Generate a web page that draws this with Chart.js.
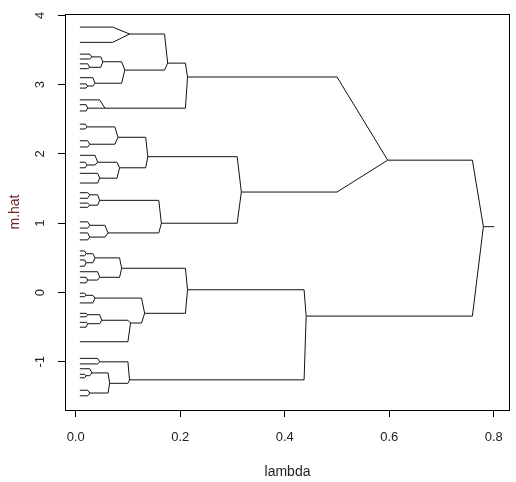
<!DOCTYPE html>
<html>
<head>
<meta charset="utf-8">
<title>m.hat vs lambda</title>
<script src="https://cdn.jsdelivr.net/npm/chart.js@4.4.1/dist/chart.umd.min.js"></script>
<style>
  html, body { margin: 0; padding: 0; background: #fff; }
  #wrap { width: 516px; height: 482px; }
</style>
</head>
<body>
<div id="wrap"><canvas id="chart"></canvas></div>
<script>
const xTicks = [0, 0.2, 0.4, 0.6, 0.8];
const yTicks = [-1, 0, 1, 2, 3, 4];

// merge points of the tree: where they form (lambda), their m.hat,
// the node they join and the lambda where the branch turns towards it
const mergeIds = [
  "R", "A", "B", "A1", "A2", "T", "U", "T1", "T2", "T2a",
  "T2b", "T2a1", "T2a2", "T2b1", "U2", "V", "W", "V1", "V2", "V1a",
  "V1b", "V2a", "V2a1", "V2b", "W1", "W2", "W1a", "W1b", "W2a", "W2b",
  "X", "Y", "X1", "X2", "X1a", "X1a1", "X1a2", "X1b", "X1b1", "X2a",
  "X2a1", "X2b", "X2b1", "X2b1a", "X2b1b", "Y1", "Y2", "Y2a", "Y2a1", "Y2b"
];
const mergeLambda = [
  0.780, 0.597, 0.441, 0.214, 0.317, 0.176, 0.056, 0.103, 0.094, 0.052,
  0.037, 0.031, 0.027, 0.023, 0.023, 0.138, 0.164, 0.081, 0.084, 0.022,
  0.027, 0.042, 0.022, 0.046, 0.046, 0.062, 0.027, 0.027, 0.027, 0.027,
  0.214, 0.103, 0.088, 0.132, 0.037, 0.020, 0.020, 0.046, 0.023, 0.037,
  0.020, 0.105, 0.050, 0.023, 0.023, 0.046, 0.065, 0.031, 0.020, 0.027
];
const mergeMhat = [
  0.95, 1.91, -0.34, 3.11, 1.45, 3.31, 2.66, 3.73, 3.21, 3.33,
  3.02, 3.40, 3.25, 2.98, 2.66, 1.96, 1.00, 2.24, 1.80, 2.39,
  2.14, 1.88, 1.84, 1.65, 1.33, 0.86, 1.41, 1.26, 0.97, 0.80,
  0.04, -1.26, 0.35, -0.30, 0.50, 0.56, 0.43, 0.22, 0.18, -0.08,
  -0.04, -0.44, -0.40, -0.32, -0.45, -1.00, -1.31, -1.16, -1.20, -1.45
];
const mergeParent = [
  null, "R", "R", "A", "A", "A1", "A1", "T", "T", "T2",
  "T2", "T2a", "T2a", "T2b", "U", "A2", "A2", "V", "V", "V1",
  "V1", "V2", "V2a", "V2", "W", "W", "W1", "W1", "W2", "W2",
  "B", "B", "X", "X", "X1", "X1a", "X1a", "X1", "X1b", "X2",
  "X2a", "X2", "X2b", "X2b1", "X2b1", "Y", "Y", "Y2", "Y2a", "Y2"
];
const mergeBend = [
  null, 0.759, 0.759, 0.500, 0.500, 0.210, 0.210, 0.170, 0.170, 0.088,
  0.088, 0.048, 0.048, 0.033, 0.046, 0.309, 0.309, 0.134, 0.134, 0.075,
  0.075, 0.079, 0.037, 0.079, 0.159, 0.159, 0.042, 0.042, 0.056, 0.056,
  0.437, 0.437, 0.210, 0.210, 0.084, 0.033, 0.033, 0.084, 0.042, 0.126,
  0.033, 0.126, 0.100, 0.046, 0.046, 0.100, 0.100, 0.062, 0.027, 0.062
];

// leaves all start at the left edge of the tree
const leafStart = 0.008;
const leafMhat = [
  3.83, 3.61, 3.44, 3.37, 3.30, 3.23, 3.10, 3.01, 2.95, 2.78,
  2.71, 2.62, 2.43, 2.36, 2.19, 2.10, 1.98, 1.88, 1.80, 1.72,
  1.58, 1.44, 1.36, 1.29, 1.23, 1.02, 0.93, 0.86, 0.76, 0.60,
  0.53, 0.47, 0.38, 0.30, 0.22, 0.14, -0.01, -0.06, -0.15, -0.30,
  -0.35, -0.43, -0.50, -0.71, -0.95, -1.03, -1.10, -1.18, -1.23, -1.41,
  -1.49
];
const leafParent = [
  "T1", "T1", "T2a1", "T2a1", "T2a2", "T2a2", "T2b", "T2b1", "T2b1", "U",
  "U2", "U2", "V1a", "V1a", "V1b", "V1b", "V2a", "V2a1", "V2a1", "V2b",
  "V2b", "W1a", "W1a", "W1b", "W1b", "W2a", "W2a", "W2b", "W2b", "X1a1",
  "X1a1", "X1a2", "X1a2", "X1b", "X1b1", "X1b1", "X2a1", "X2a1", "X2a", "X2b1a",
  "X2b1a", "X2b1b", "X2b1b", "X2b", "Y1", "Y1", "Y2a", "Y2a1", "Y2a1", "Y2b",
  "Y2b"
];
const leafBend = [
  0.071, 0.071, 0.027, 0.027, 0.023, 0.023, 0.033, 0.020, 0.020, 0.046,
  0.020, 0.020, 0.018, 0.018, 0.023, 0.023, 0.037, 0.018, 0.018, 0.042,
  0.042, 0.023, 0.023, 0.023, 0.023, 0.023, 0.023, 0.023, 0.023, 0.017,
  0.017, 0.017, 0.017, 0.042, 0.020, 0.020, 0.017, 0.017, 0.033, 0.020,
  0.020, 0.020, 0.020, 0.100, 0.042, 0.042, 0.027, 0.017, 0.017, 0.023,
  0.023
];

const rootStubEnd = 0.801;

const lineColor = "#111";
const textColor = "#222";
const fontFamily = "'Liberation Sans', Arial, sans-serif";

function nodePoint(id) {
  const i = mergeIds.indexOf(id);
  return { x: mergeLambda[i], y: mergeMhat[i] };
}

function branch(fromX, fromY, bend, parentId) {
  return {
    data: [{ x: fromX, y: fromY }, { x: bend, y: fromY }, nodePoint(parentId)],
    borderColor: lineColor,
    borderWidth: 1,
    pointRadius: 0,
    showLine: true,
    tension: 0
  };
}

const datasets = [];

mergeIds.forEach((id, i) => {
  if (mergeParent[i]) {
    datasets.push(branch(mergeLambda[i], mergeMhat[i], mergeBend[i], mergeParent[i]));
  }
});

leafMhat.forEach((y, i) => {
  datasets.push(branch(leafStart, y, leafBend[i], leafParent[i]));
});

const root = nodePoint("R");
datasets.push({
  data: [root, { x: rootStubEnd, y: root.y }],
  borderColor: lineColor,
  borderWidth: 1,
  pointRadius: 0,
  showLine: true
});

// box round the plot and the rotated y labels, R style
const framePlugin = {
  id: "frame",
  afterDraw(chart) {
    const { ctx, chartArea: a, scales } = chart;
    ctx.save();
    ctx.strokeStyle = "#000";
    ctx.lineWidth = 1;
    ctx.strokeRect(Math.round(a.left) + 0.5, Math.round(a.top) + 0.5,
      Math.round(a.right - a.left) - 1, Math.round(a.bottom - a.top));

    ctx.fillStyle = textColor;
    ctx.font = `13px ${fontFamily}`;
    ctx.textAlign = "center";
    ctx.textBaseline = "middle";
    yTicks.forEach((v) => {
      ctx.save();
      ctx.translate(40, scales.y.getPixelForValue(v));
      ctx.rotate(-Math.PI / 2);
      ctx.fillText(String(v), 0, 0);
      ctx.restore();
    });
    ctx.restore();
  }
};

new Chart(document.getElementById("chart"), {
  type: "scatter",
  data: { datasets },
  plugins: [framePlugin],
  options: {
    animation: false,
    responsive: true,
    maintainAspectRatio: false,
    layout: { padding: { left: 7, right: 4, top: 14, bottom: 1 } },
    plugins: {
      legend: { display: false },
      tooltip: { enabled: false }
    },
    scales: {
      x: {
        type: "linear",
        min: -0.0204,
        max: 0.831,
        afterBuildTicks: (scale) => { scale.ticks = xTicks.map((value) => ({ value })); },
        afterFit: (scale) => { scale.height = 71; },
        ticks: {
          color: textColor,
          font: { family: fontFamily, size: 13 },
          padding: 13,
          maxRotation: 0,
          callback: (v) => Number(v).toFixed(1)
        },
        grid: { display: true, drawOnChartArea: false, tickLength: 7, color: "#000" },
        border: { display: false },
        title: { display: true, text: "lambda", color: textColor, font: { family: fontFamily, size: 14 }, padding: 0 }
      },
      y: {
        type: "linear",
        min: -1.695,
        max: 4.019,
        afterBuildTicks: (scale) => { scale.ticks = yTicks.map((value) => ({ value })); },
        afterFit: (scale) => { scale.width = 58; },
        ticks: { display: false },
        grid: { display: true, drawOnChartArea: false, tickLength: 7, color: "#000" },
        border: { display: false },
        title: { display: true, text: "m.hat", color: "#6b2525", font: { family: fontFamily, size: 14 }, padding: 0 }
      }
    }
  }
});
</script>
</body>
</html>
